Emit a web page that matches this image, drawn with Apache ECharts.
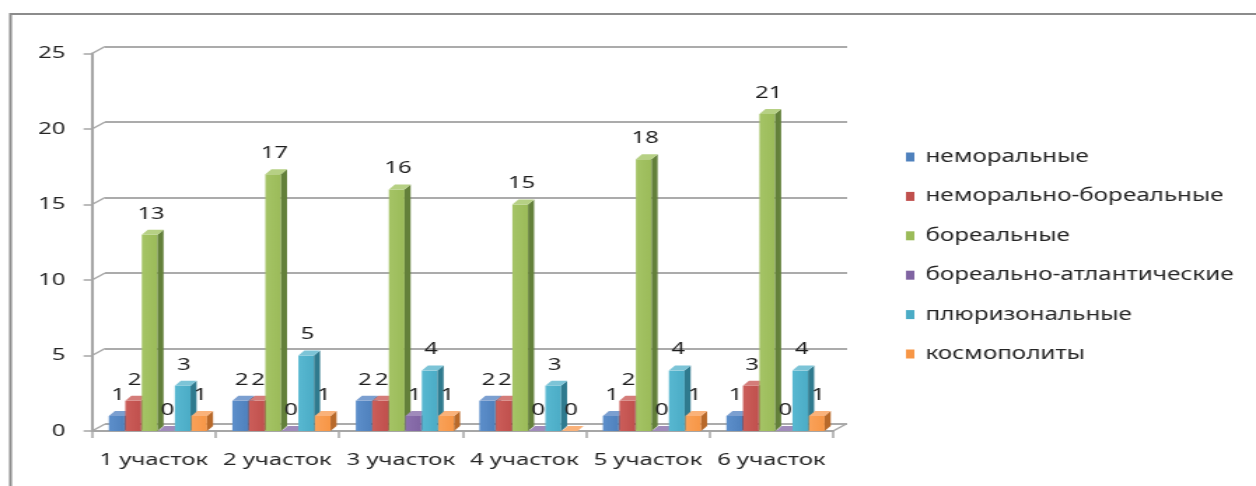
<!DOCTYPE html>
<html>
<head>
<meta charset="utf-8">
<script src="https://cdn.jsdelivr.net/npm/echarts@6/dist/echarts.min.js"></script>
<style>
  html, body { margin: 0; padding: 0; background: #fff; overflow: hidden; }
  #main { width: 897px; height: 486px; transform: scaleX(1.40022); transform-origin: 0 0; }
</style>
</head>
<body>
<div id="main"></div>
<script>
// Sites and species counts by geographic element
const categories = ['1 участок', '2 участок', '3 участок', '4 участок', '5 участок', '6 участок'];
const seriesNames = ['неморальные', 'неморально-бореальные', 'бореальные', 'бореально-атлантические', 'плюризональные', 'космополиты'];
const nemoral = [1, 2, 2, 2, 1, 1];
const nemoralBoreal = [2, 2, 2, 2, 2, 3];
const boreal = [13, 17, 16, 15, 18, 21];
const borealAtlantic = [0, 0, 1, 0, 0, 0];
const plurizonal = [3, 5, 4, 3, 4, 4];
const cosmopolitan = [1, 1, 1, 0, 1, 1];
const yTicks = [0, 5, 10, 15, 20, 25];

const seriesValues = [nemoral, nemoralBoreal, boreal, borealAtlantic, plurizonal, cosmopolitan];
// front, side, top shades per series
const palette = [
  { front: '#4F81BD', light: '#5d8fcb', side: '#36598a', top: '#7b9fd0' },
  { front: '#C0504D', light: '#cc5e5a', side: '#8c3533', top: '#d47c79' },
  { front: '#9BBB59', light: '#a5c466', side: '#63803a', top: '#b6d084' },
  { front: '#8064A2', light: '#8c71ae', side: '#594574', top: '#a08bbb' },
  { front: '#4BACC6', light: '#58b8d1', side: '#2f7a8e', top: '#7cc4d7' },
  { front: '#F79646', light: '#f9a25a', side: '#b8692a', top: '#fab27a' }
];

const DEPTH_X = 9.3;   // back wall offset (chart units, before horizontal stretch)
const DEPTH_Y = -7;

function barRenderer(s) {
  return function (params, api) {
    const i = api.value(0);
    const v = api.value(1);
    const top = api.coord([i, v]);
    const base = api.coord([i, 0]);
    const cw = api.size([1, 0])[0];
    const x0 = top[0] - cw / 2 + cw * 0.136 + s * cw * 0.1336;
    const w = cw * 0.127;
    const dx = cw * 0.049;
    const dy = -5;
    const yt = top[1];
    const yb = base[1];
    const c = palette[s];
    const children = [];
    if (yb - yt > 0.5) {
      children.push({
        type: 'rect',
        shape: { x: x0, y: yt, width: w, height: yb - yt },
        style: {
          fill: new echarts.graphic.LinearGradient(0, 0, 1, 0, [
            { offset: 0, color: c.light },
            { offset: 1, color: c.front }
          ])
        }
      });
      children.push({
        type: 'polygon',
        shape: { points: [[x0 + w, yt], [x0 + w + dx, yt + dy], [x0 + w + dx, yb + dy], [x0 + w, yb]] },
        style: { fill: c.side }
      });
    }
    children.push({
      type: 'polygon',
      shape: { points: [[x0, yt], [x0 + dx, yt + dy], [x0 + w + dx, yt + dy], [x0 + w, yt]] },
      style: { fill: c.top }
    });
    children.push({
      type: 'text',
      z2: 100,
      style: {
        text: String(v),
        x: x0 + w / 2 + 1,
        y: yt - 21,
        align: 'center',
        verticalAlign: 'middle',
        font: '17px "Noto Sans"',
        fill: '#1e1e1e'
      }
    });
    return { type: 'group', children: children };
  };
}

// diagonal edges joining the front axis to the back wall
function edgeRenderer(params, api) {
  const v = api.value(0);
  const p = api.coord([0, v]);
  const cw = api.size([1, 0])[0];
  const xl = p[0] - cw / 2;
  const lines = [{
    type: 'line',
    shape: { x1: xl, y1: p[1], x2: xl + DEPTH_X, y2: p[1] + DEPTH_Y },
    style: { stroke: '#a6a6a6', lineWidth: 1.5 }
  }];
  if (v === 0) {
    const xr = xl + cw * categories.length;
    lines.push({
      type: 'line',
      shape: { x1: xr, y1: p[1], x2: xr + DEPTH_X, y2: p[1] + DEPTH_Y },
      style: { stroke: '#a6a6a6', lineWidth: 1.5 }
    });
  }
  return { type: 'group', children: lines };
}

const series = seriesNames.map(function (name, s) {
  return {
    name: name,
    type: 'custom',
    xAxisIndex: 0,
    yAxisIndex: 0,
    z: 3,
    renderItem: barRenderer(s),
    encode: { x: 0, y: 1 },
    itemStyle: { color: palette[s].front },
    data: seriesValues[s].map(function (v, i) { return [i, v]; })
  };
});
series.push({
  type: 'custom',
  xAxisIndex: 0,
  yAxisIndex: 0,
  z: 1,
  silent: true,
  renderItem: edgeRenderer,
  encode: { y: 0 },
  data: yTicks.map(function (t) { return [t]; })
});

const chart = echarts.init(document.getElementById('main'));
chart.setOption({
  animation: false,
  backgroundColor: '#ffffff',
  graphic: [{
    type: 'rect',
    shape: { x: 7.5, y: 14, width: 1000, height: 600 },
    style: { fill: 'none', stroke: '#8c8c8c', lineWidth: 2 },
    silent: true
  }],
  legend: {
    orient: 'vertical',
    left: 642,
    top: 142,
    itemWidth: 6,
    itemHeight: 9,
    itemGap: 19.4,
    icon: 'rect',
    data: seriesNames,
    textStyle: { fontFamily: 'Noto Sans', fontSize: 17.3, color: '#262626', lineHeight: 20, padding: [0, 0, 0, 3] }
  },
  grid: [
    { left: 65.7, right: 302, top: 53.5, bottom: 55 },
    { left: 75, right: 292, top: 46.5, bottom: 62 }
  ],
  xAxis: [
    {
      gridIndex: 0,
      type: 'category',
      data: categories,
      axisLine: { lineStyle: { color: '#a6a6a6', width: 2 } },
      axisTick: { show: true, length: 7, lineStyle: { color: '#a6a6a6', width: 1.5 } },
      axisLabel: { interval: 0, fontFamily: 'Noto Sans', fontSize: 17, color: '#262626', margin: 21 }
    },
    {
      gridIndex: 1,
      type: 'category',
      data: categories,
      show: false
    }
  ],
  yAxis: [
    {
      gridIndex: 0,
      type: 'value',
      min: 0,
      max: 25,
      interval: 5,
      axisLine: { show: true, lineStyle: { color: '#a6a6a6', width: 2 } },
      axisTick: { show: true, length: 6, lineStyle: { color: '#a6a6a6', width: 1.5 } },
      splitLine: { show: false },
      axisLabel: { fontFamily: 'Noto Sans', fontSize: 17, color: '#262626', margin: 19 }
    },
    {
      gridIndex: 1,
      type: 'value',
      min: 0,
      max: 25,
      interval: 5,
      axisLine: { show: false },
      axisTick: { show: false },
      axisLabel: { show: false },
      splitLine: { show: true, lineStyle: { color: '#ababab', width: 2 } }
    }
  ],
  series: series
});
</script>
</body>
</html>
